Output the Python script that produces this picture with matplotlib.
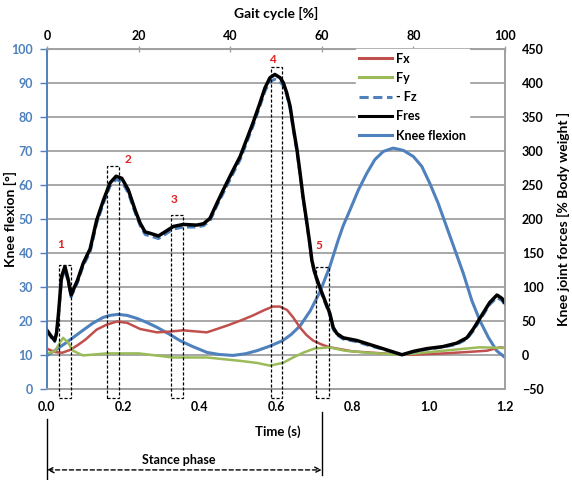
import matplotlib
matplotlib.use("Agg")
import matplotlib.pyplot as plt
import matplotlib.transforms as mtransforms
from matplotlib.patches import Rectangle
from matplotlib.lines import Line2D

plt.rcParams['font.family'] = ['Lato', 'DejaVu Sans']

# ---------------- data ----------------
# Forces (right axis, % body weight)
t_f = [0.0, 0.01, 0.02, 0.025, 0.03, 0.038, 0.047, 0.055, 0.063, 0.08, 0.095, 0.113,
       0.13, 0.148, 0.165, 0.181, 0.196, 0.213, 0.231, 0.244, 0.257, 0.27, 0.292, 0.309,
       0.331, 0.357, 0.392, 0.41, 0.427, 0.445, 0.462, 0.484, 0.506, 0.523, 0.54, 0.558,
       0.571, 0.584, 0.597, 0.611, 0.619, 0.628, 0.637, 0.645, 0.655, 0.663, 0.671,
       0.681, 0.689, 0.694, 0.702, 0.715, 0.728, 0.741, 0.75, 0.76, 0.776, 0.812, 0.846,
       0.88, 0.93, 0.96, 0.995, 1.037, 1.073, 1.10, 1.117, 1.139, 1.16, 1.179, 1.192, 1.2]
fres = [36, 28, 21, 32, 60, 115, 130, 112, 88, 110, 135, 156, 198, 228, 253, 263, 260,
        243, 213, 194, 181, 179, 175, 181, 189, 192, 191, 193, 201, 223, 243, 268, 292,
        317, 342, 371, 393, 408, 413, 408, 401, 386, 366, 336, 302, 268, 232, 194, 162,
        139, 120, 99, 80, 61, 40, 31, 25, 21, 15, 9, 0, 5, 9, 12, 17, 25, 38, 58, 77, 88,
        83, 76]
fz_neg = [34, 26, 19, 30, 57, 110, 125, 108, 85, 106, 131, 151, 193, 223, 248, 258, 255,
          238, 209, 190, 177, 175, 171, 177, 185, 188, 188, 190, 197, 219, 238, 263, 287,
          312, 337, 366, 388, 402, 406, 402, 396, 382, 362, 332, 298, 265, 229, 191, 159,
          136, 117, 96, 77, 58, 37, 29, 23, 19, 13, 8, 0, 4, 8, 11, 15, 23, 35, 55, 74,
          84, 80, 73]

t_x = [0, 0.02, 0.04, 0.06, 0.08, 0.10, 0.13, 0.155, 0.183, 0.21, 0.244, 0.288, 0.32,
       0.356, 0.419, 0.472, 0.51, 0.54, 0.57, 0.592, 0.61, 0.629, 0.645, 0.663, 0.68,
       0.697, 0.72, 0.741, 0.80, 0.88, 0.95, 1.04, 1.10, 1.153, 1.187, 1.2]
fx = [9, 4, 3, 7, 14, 22, 37, 44, 49, 47, 38, 33, 34, 36, 33, 43, 51, 58, 66, 71, 71, 66,
      55, 40, 29, 21, 15, 11, 5, 2, 0, 2, 4, 6, 11, 10]

t_y = [0, 0.02, 0.03, 0.042, 0.055, 0.068, 0.094, 0.157, 0.24, 0.33, 0.419, 0.506, 0.55,
       0.584, 0.618, 0.645, 0.671, 0.70, 0.74, 0.78, 0.84, 0.93, 1.04, 1.134, 1.2]
fy = [2, 5, 14, 25, 18, 6, -1, 2, 2, -4, -4, -9, -12, -16, -12, -4, 3, 9, 11, 6, 3, 0, 6,
      11, 10]

# Knee flexion (left axis, degrees)
t_k = [0, 0.02, 0.047, 0.07, 0.094, 0.12, 0.147, 0.165, 0.186, 0.21, 0.236, 0.26, 0.288,
       0.32, 0.348, 0.38, 0.419, 0.45, 0.487, 0.52, 0.55, 0.585, 0.618, 0.64, 0.663,
       0.69, 0.715, 0.741, 0.763, 0.776, 0.794, 0.816, 0.838, 0.859, 0.881, 0.907, 0.934,
       0.96, 0.982, 1.003, 1.025, 1.047, 1.069, 1.091, 1.113, 1.134, 1.156, 1.178, 1.2]
knee = [9.8, 11.2, 13.3, 15.2, 17.2, 19.3, 21, 21.6, 21.9, 21.6, 20.7, 19.6, 18.1, 16.1,
        14.2, 12.5, 10.7, 10.1, 9.8, 10.3, 11.2, 12.6, 14.2, 16, 18.5, 23, 28.5, 36,
        43.8, 48, 52.7, 58.6, 63.5, 67.5, 69.9, 70.9, 70.2, 68.4, 65.5, 60.5, 54.6, 47.7,
        40.8, 33.9, 26, 20.1, 15.2, 11.2, 9.2]

# Peak boxes (time ranges) and labels
box_t0 = [0.031, 0.157, 0.325, 0.586, 0.706]
box_t1 = [0.062, 0.189, 0.356, 0.617, 0.738]
box_top = [36.4, 65.7, 51.2, 94.7, 35.8]
box_bottom = -2.8
peak_labels = ['1', '2', '3', '4', '5']
label_t = [0.037, 0.212, 0.333, 0.59, 0.713]
label_y = [42.6, 67.5, 55.6, 97.0, 42.3]

stance_start = 0.0
stance_end = 0.72

x_ticks = [0.0, 0.2, 0.4, 0.6, 0.8, 1.0, 1.2]
gait_ticks = [0, 20, 40, 60, 80, 100]

# ---------------- colors ----------------
c_red = '#C0504D'
c_green = '#9BBB59'
c_blue = '#4F81BD'
c_grid = '#A0A0A0'

fig = plt.figure(figsize=(5.72, 4.8), dpi=100)
ax = fig.add_axes([47 / 572, (480 - 388.7) / 480, 458 / 572, 339.4 / 480])
ax2 = ax.twinx()

ax.set_xlim(0, 1.2)
ax.set_ylim(0, 100)
ax2.set_ylim(-50, 450)

ax.set_yticks(range(0, 101, 10))
ax2.set_yticks(range(-50, 451, 50))
ax.set_xticks(x_ticks)
ax.set_xticklabels([f'{v:.1f}' for v in x_ticks])

ax.grid(axis='y', color=c_grid, lw=1.3)
ax.set_axisbelow(True)

fs = 9
ax.tick_params(axis='y', colors=c_blue, labelsize=fs, length=5, width=1, pad=5)
for lab in ax.get_yticklabels():
    lab.set_fontweight('bold')
ax.tick_params(axis='x', labelsize=fs, length=0, pad=9)
for lab in ax.get_xticklabels():
    lab.set_fontweight('bold')
ax2.tick_params(axis='y', labelsize=fs, length=0, pad=12)
for lab in ax2.get_yticklabels():
    lab.set_fontweight('bold')

for a in (ax, ax2):
    for s in ('top', 'right', 'bottom'):
        a.spines[s].set_color(c_grid)
        a.spines[s].set_linewidth(1.2)
    a.spines['left'].set_color(c_blue)
    a.spines['left'].set_linewidth(1.2)

# Knee flexion on left axis
ax.plot(t_k, knee, color=c_blue, lw=2.2, zorder=3)

# Forces on right axis
ax2.plot(t_x, fx, color=c_red, lw=1.8)
ax2.plot(t_y, fy, color=c_green, lw=1.8)
ax2.plot(t_f, fz_neg, color=c_blue, lw=2.0, ls=(0, (3, 1.5)))
ax2.plot(t_f, fres, color='black', lw=2.5, solid_joinstyle='round')

# Boxes and labels
for t0, t1, top, lab, lt, ly in zip(box_t0, box_t1, box_top, peak_labels, label_t, label_y):
    ax2.add_patch(Rectangle((t0, 5 * box_bottom - 50), t1 - t0, 5 * top - 5 * box_bottom,
                            fill=False, ls=(0, (2.5, 1.5)), lw=0.9, ec='black',
                            clip_on=False, zorder=5))
    ax2.text(lt, 5 * ly - 50, lab, color='#E02020', fontsize=8.5, fontweight='bold',
             ha='center', va='center', zorder=6)

# Axis labels
ax.set_ylabel('Knee flexion [°]', fontsize=10, fontweight='bold')
ax.yaxis.set_label_coords(-0.066, 0.5)
ax2.set_ylabel('Knee joint forces [% Body weight ]', fontsize=10, fontweight='bold',
               labelpad=10)
ax.set_xlabel('Time (s)', fontsize=9.5, fontweight='bold')
ax.xaxis.set_label_coords(0.504, -0.108)

# Top gait cycle axis
sec = ax.secondary_xaxis('top', functions=(lambda t: t / 1.2 * 100, lambda g: g * 1.2 / 100))
sec.set_xticks(gait_ticks)
sec.tick_params(labelsize=fs, length=4, width=1, direction='inout', color=c_grid, pad=3)
for lab in sec.get_xticklabels():
    lab.set_fontweight('bold')
sec.spines['top'].set_color(c_grid)
sec.set_xlabel('Gait cycle [%]', fontsize=10, fontweight='bold', labelpad=9)

# Legend
handles = [Line2D([], [], color=c_red, lw=2.2),
           Line2D([], [], color=c_green, lw=2.2),
           Line2D([], [], color=c_blue, lw=2.2, ls=(0, (3, 1.5))),
           Line2D([], [], color='black', lw=2.2),
           Line2D([], [], color=c_blue, lw=2.2)]
leg = ax2.legend(handles, ['Fx', 'Fy', '- Fz', 'Fres', 'Knee flexion'],
                 loc='upper left', bbox_to_anchor=(0.66, 1.02), frameon=True,
                 fancybox=False, edgecolor='white', facecolor='white', framealpha=1,
                 prop={'weight': 'bold', 'size': 9}, handlelength=2.6,
                 handletextpad=0.3, labelspacing=0.58, borderpad=0.3)
leg.set_zorder(10)

# Stance phase annotation
trans = mtransforms.blended_transform_factory(ax.transData, fig.transFigure)
ax.plot([stance_start, stance_start], [0.128, 0.0], color='black', lw=1,
        transform=trans, clip_on=False)
ax.plot([stance_end, stance_end], [0.142, 0.01], color='black', lw=1,
        transform=trans, clip_on=False)
ax.annotate('', xy=(stance_end, 0.021), xytext=(stance_start, 0.021),
            xycoords=trans, textcoords=trans,
            arrowprops=dict(arrowstyle='<->', ls=(0, (3, 2)), lw=1, color='black',
                            shrinkA=0, shrinkB=0, mutation_scale=10))
ax.text((stance_start + stance_end) / 2 - 0.014, 0.042, 'Stance phase', transform=trans,
        ha='center', va='center', fontsize=9, fontweight='bold')

fig.savefig('out.png', dpi=100)
